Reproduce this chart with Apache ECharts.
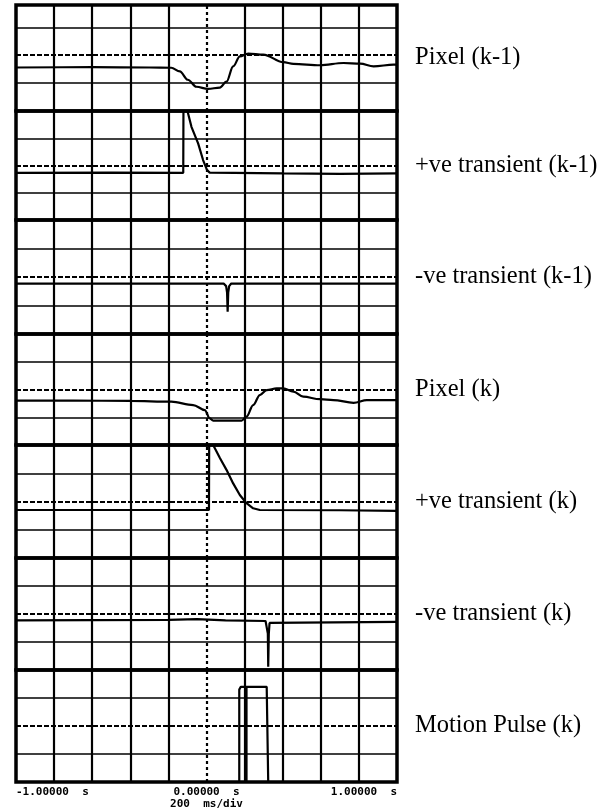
<!DOCTYPE html>
<html>
<head>
<meta charset="utf-8">
<script src="https://cdn.jsdelivr.net/npm/echarts@6/dist/echarts.min.js"></script>
<style>
  html, body { margin: 0; padding: 0; background: #fff; }
  #chart { width: 615px; height: 812px; }
</style>
</head>
<body>
<div id="chart"></div>
<script>
// Time base: 200 ms/div over ten divisions, trigger at the centre
const timeTicks = [-1, 0, 1];
const timeTickLabels = ['-1.00000  s', '0.00000  s', '1.00000  s'];
const timebaseLabel = '200  ms/div';

// Graticule: interior division lines (time, in s) and levels (in divisions)
const divisionTimes = [-0.8, -0.6, -0.4, -0.2, 0, 0.2, 0.4, 0.6, 0.8];
const divisionLevels = [1, 2, 3];

const channelNames = [
  'Pixel (k-1)',
  '+ve transient (k-1)',
  '-ve transient (k-1)',
  'Pixel (k)',
  '+ve transient (k)',
  '-ve transient (k)',
  'Motion Pulse (k)'
];

// Traces: [time (s), level (divisions above the bottom of the channel)]
const pixelPrev = [
  [-1, 1.56], [-0.6, 1.57], [-0.3, 1.56], [-0.185, 1.55], [-0.14, 1.42],
  [-0.098, 1.12], [-0.053, 0.87], [0.008, 0.79], [0.07, 0.84], [0.105, 1.05],
  [0.14, 1.6], [0.175, 1.96], [0.219, 2.06], [0.298, 2.02], [0.403, 1.75],
  [0.456, 1.69], [0.596, 1.64], [0.719, 1.72], [0.807, 1.7], [0.877, 1.6],
  [0.982, 1.66], [1, 1.66]
];
const posTransPrev = [
  [-1, 1.73], [-0.5, 1.74], [-0.122, 1.73], [-0.121, 4.0], [-0.1, 4.0],
  [-0.079, 3.42], [-0.044, 2.81], [-0.018, 2.2], [0.003, 1.83], [0.017, 1.74],
  [0.4, 1.71], [0.7, 1.69], [1, 1.71]
];
const negTransPrev = [
  [-1, 1.77], [-0.14, 1.77], [-0.132, 1.7], [-0.124, 1.77], [0.09, 1.77],
  [0.103, 1.68], [0.108, 1.45], [0.111, 0.78], [0.114, 1.45], [0.119, 1.68],
  [0.13, 1.77], [1, 1.77]
];
const pixelCur = [
  [-1, 1.6], [-0.7, 1.6], [-0.4, 1.59], [-0.185, 1.56], [-0.07, 1.44],
  [-0.009, 1.26], [0.017, 0.96], [0.035, 0.88], [0.184, 0.88], [0.21, 1.02],
  [0.245, 1.44], [0.28, 1.8], [0.316, 1.98], [0.368, 2.04], [0.403, 2.04],
  [0.456, 1.92], [0.508, 1.74], [0.596, 1.65], [0.666, 1.62], [0.772, 1.52],
  [0.842, 1.62], [0.982, 1.62], [1, 1.62]
];
const posTransCur = [
  [-1, 1.7], [-0.5, 1.7], [0.013, 1.7], [0.014, 4.0], [0.035, 4.0],
  [0.071, 3.53], [0.105, 3.12], [0.14, 2.64], [0.175, 2.23], [0.21, 1.94],
  [0.245, 1.76], [0.28, 1.7], [0.7, 1.69], [1, 1.67]
];
const negTransCur = [
  [-1, 1.77], [-0.2, 1.79], [-0.05, 1.82], [0.1, 1.77], [0.31, 1.75],
  [0.318, 1.68], [0.322, 1.3], [0.324, 0.12], [0.327, 1.3], [0.331, 1.68],
  [0.34, 1.74], [1, 1.72]
];
const motionPulse = [
  [-1, 0], [0.172, 0], [0.172, 3.3], [0.18, 3.4], [0.316, 3.4], [0.324, 0], [1, 0]
];
const motionPulseEdge = [[0.21, 3.38], [0.21, 0]];

// Panel layout (px)
const panelTops = [5, 111, 220, 334, 445, 558, 670];
const panelBottom = 782;
const panelLeft = 16;
const panelRight = 218;

const traces = [pixelPrev, posTransPrev, negTransPrev, pixelCur, posTransCur, negTransCur, motionPulse];
const smoothTraces = [true, false, false, true, false, false, false];

const graticule = [
  ...divisionTimes.map(t => ({
    xAxis: t,
    lineStyle: t === 0
      ? { color: '#000', width: 2.2, type: [3, 3] }
      : { color: '#000', width: 2.2, type: 'solid' }
  })),
  ...divisionLevels.map(v => ({
    yAxis: v,
    lineStyle: v === 2
      ? { color: '#000', width: 1.8, type: [5, 2] }
      : { color: '#000', width: 1.6, type: 'solid' }
  }))
];

const grids = [], xAxes = [], yAxes = [], series = [];
panelTops.forEach((top, i) => {
  const bottomEdge = i < panelTops.length - 1 ? panelTops[i + 1] : panelBottom;
  const last = i === panelTops.length - 1;
  grids.push({
    left: panelLeft, right: panelRight, top: top,
    height: bottomEdge - top,
    show: true, borderColor: '#000', borderWidth: 3.5, backgroundColor: 'transparent'
  });
  xAxes.push({
    type: 'value', gridIndex: i, min: -1, max: 1, interval: 1,
    axisLine: { show: false }, axisTick: { show: false }, splitLine: { show: false },
    axisLabel: {
      show: last, margin: 5,
      fontFamily: 'DejaVu Sans Mono', fontWeight: 'bold', fontSize: 11, color: '#000',
      alignMinLabel: 'left', alignMaxLabel: 'right',
      formatter: v => timeTickLabels[timeTicks.indexOf(v)] || ''
    },
    name: last ? timebaseLabel : '',
    nameLocation: 'middle', nameGap: 17,
    nameTextStyle: { fontFamily: 'DejaVu Sans Mono', fontWeight: 'bold', fontSize: 11, color: '#000' }
  });
  yAxes.push({
    type: 'value', gridIndex: i, position: 'right',
    min: 0, max: i === 0 ? 3.8 : 4,
    axisLine: { show: false }, axisTick: { show: false },
    axisLabel: { show: false }, splitLine: { show: false },
    name: channelNames[i], nameLocation: 'middle', nameRotate: 0, nameGap: 18,
    nameTextStyle: { fontFamily: 'Liberation Serif', fontSize: 24.5, color: '#000' }
  });
  series.push({
    type: 'line', xAxisIndex: i, yAxisIndex: i,
    data: traces[i], showSymbol: false,
    smooth: smoothTraces[i] ? 0.35 : false, smoothMonotone: 'x',
    lineStyle: { color: '#000', width: 2.2 },
    animation: false, silent: true,
    markLine: {
      silent: true, symbol: ['none', 'none'], animation: false,
      label: { show: false }, emphasis: { disabled: true },
      data: graticule
    }
  });
});
series.push({
  type: 'line', xAxisIndex: 6, yAxisIndex: 6,
  data: motionPulseEdge, showSymbol: false,
  lineStyle: { color: '#000', width: 2.2 }, animation: false, silent: true
});

const chart = echarts.init(document.getElementById('chart'), null, { renderer: 'canvas' });
chart.setOption({
  backgroundColor: '#fff',
  animation: false,
  grid: grids,
  xAxis: xAxes,
  yAxis: yAxes,
  series: series
});
</script>
</body>
</html>
